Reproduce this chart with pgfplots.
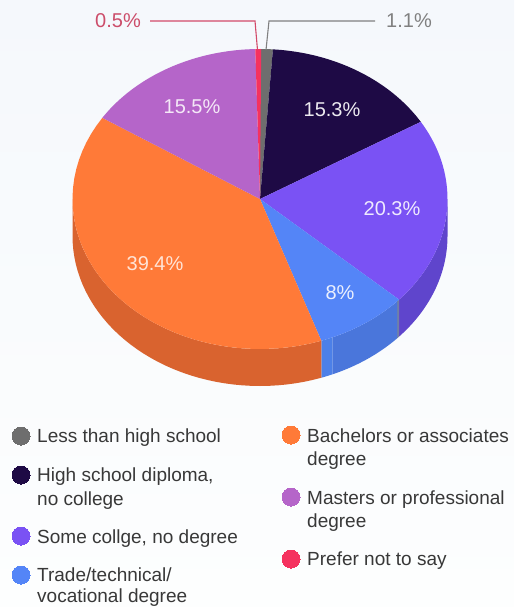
\documentclass[border=0pt]{standalone}
\usepackage{pgfplots}
\pgfplotsset{compat=1.18}
\usepackage{fontspec}
\setmainfont{Liberation Sans}

\definecolor{cLess}{HTML}{6E6E6E}
\definecolor{cHigh}{HTML}{1E0A45}
\definecolor{cSome}{HTML}{7A52F4}
\definecolor{cTrade}{HTML}{5485F7}
\definecolor{cBach}{HTML}{FF7A38}
\definecolor{cMast}{HTML}{B565C9}
\definecolor{cPref}{HTML}{F5325F}
\definecolor{wSome}{HTML}{5F45CC}
\definecolor{wTrade}{HTML}{4A76DB}
\definecolor{wTradeB}{HTML}{4C80E8}
\definecolor{wSeam}{HTML}{6F80A8}
\definecolor{wBach}{HTML}{D9632F}
\definecolor{bgTop}{HTML}{F5F8FC}
\definecolor{bgBottom}{HTML}{FDFEFE}

% Pie geometry on the canvas: centre, radii, rim depth
\def\cx{260}\def\cy{199}\def\rx{187.5}\def\ry{150}\def\depth{37}
\def\steps{40}

% Top face of one slice: colour, share in percent (slices run clockwise from the top)
\newcommand\pieslice[2]{%
  \pgfmathsetmacro\lo{\cum*3.6}%
  \pgfmathsetmacro\hi{(\cum+#2)*3.6}%
  \xdef\pts{(\cx,\cy)}%
  \foreach \i in {0,...,\steps}{%
    \pgfmathsetmacro\t{\lo+(\hi-\lo)*\i/\steps}%
    \pgfmathsetmacro\px{\cx+\rx*sin(\t)}%
    \pgfmathsetmacro\py{\cy-\ry*cos(\t)}%
    \xdef\pts{\pts (\px,\py)}%
  }%
  \edef\tmp{\noexpand\addplot[fill=#1,draw=none] coordinates {\pts};}\tmp
  \pgfmathsetmacro\newcum{\cum+#2}\xdef\cum{\newcum}%
}

% Visible rim of one slice: colour, share in percent
\newcommand\pierim[2]{%
  \pgfmathsetmacro\lo{max(\cum*3.6,90)}%
  \pgfmathsetmacro\hi{min((\cum+#2)*3.6,270)}%
  \pgfmathparse{\lo<\hi?1:0}%
  \ifnum\pgfmathresult=1
    \xdef\pts{}\xdef\back{}%
    \foreach \i in {0,...,\steps}{%
      \pgfmathsetmacro\t{\lo+(\hi-\lo)*\i/\steps}%
      \pgfmathsetmacro\px{\cx+\rx*sin(\t)}%
      \pgfmathsetmacro\py{\cy-\ry*cos(\t)}%
      \pgfmathsetmacro\qy{\py+\depth}%
      \xdef\pts{\pts (\px,\py)}%
      \xdef\back{(\px,\qy) \back}%
    }%
    \edef\tmp{\noexpand\addplot[fill=#1,draw=none] coordinates {\pts \back};}\tmp
  \fi
  \pgfmathsetmacro\newcum{\cum+#2}\xdef\cum{\newcum}%
}

\newcommand\legendline[3]{\node[anchor=base west,inner sep=0pt,font=\fontsize{19}{22}\selectfont,text=black!78] at (axis cs:#1,#2) {#3};}
\newcommand\pct[4]{\node[inner sep=0pt,font=\fontsize{20}{24}\selectfont,text=#4] at (axis cs:#1,#2) {#3};}
\newcommand\swatch[3]{\addplot[only marks,mark=*,mark size=9pt,color=#1,mark options={draw=#1,fill=#1,line width=0pt}] coordinates {(#2,#3)};}

\begin{document}
\begin{tikzpicture}[x=1pt,y=1pt]
\path[use as bounding box,clip] (0,0) rectangle (514,607);
\begin{axis}[
  at={(0,0)},anchor=south west,
  scale only axis,width=514pt,height=607pt,
  xmin=0,xmax=514,ymin=0,ymax=607,y dir=reverse,
  hide axis,clip=false]

\path[top color=bgTop,bottom color=bgBottom]
  (axis cs:0,0) rectangle (axis cs:514,607);

% Rim below the front of the pie; the Trade slice's rim carries two seams
\gdef\cum{0}
\pierim{cLess}{1.1}
\pierim{cHigh}{15.3}
\pierim{wSome}{20.3}
\pierim{wSeam}{0.25}
\pierim{wTrade}{6.75}
\pierim{wTradeB}{1.0}
\pierim{wBach}{39.4}
\pierim{cMast}{15.5}
\pierim{cPref}{0.5}

% Top face
\gdef\cum{0}
\pieslice{cLess}{1.1}
\pieslice{cHigh}{15.3}
\pieslice{cSome}{20.3}
\pieslice{cTrade}{8}
\pieslice{cBach}{39.4}
\pieslice{cMast}{15.5}
\pieslice{cPref}{0.5}

% Leader lines for the two thin slices
\addplot[color=cPref!70!gray,line width=1.1pt] coordinates {(150,21) (255,21) (257.5,50)};
\addplot[color=black!50,line width=1.1pt] coordinates {(375,21) (269,21) (266,50)};

% Value labels
\pct{118}{21}{0.5\%}{cPref!65!gray}
\pct{409}{21}{1.1\%}{black!50}
\pct{332}{110}{15.3\%}{white!92!cHigh}
\pct{192}{107}{15.5\%}{white!85!cMast}
\pct{392}{209}{20.3\%}{white!88!cSome}
\pct{340}{293}{8\%}{white!88!cTrade}
\pct{155}{264}{39.4\%}{white!80!cBach}

% Legend swatches
\swatch{cLess}{21}{436}
\swatch{cHigh}{21}{475}
\swatch{cSome}{21}{536}
\swatch{cTrade}{21}{575}
\swatch{cBach}{291}{435}
\swatch{cMast}{291}{497}
\swatch{cPref}{291}{559}

% Legend text
\legendline{37}{442}{Less than high school}
\legendline{37}{481}{High school diploma,}
\legendline{37}{505}{no college}
\legendline{37}{543}{Some collge, no degree}
\legendline{37}{581}{Trade/technical/}
\legendline{37}{602.5}{vocational degree}
\legendline{307}{442}{Bachelors or associates}
\legendline{307}{465}{degree}
\legendline{307}{504}{Masters or professional}
\legendline{307}{527}{degree}
\legendline{307}{565}{Prefer not to say}
\end{axis}
\end{tikzpicture}
\end{document}
